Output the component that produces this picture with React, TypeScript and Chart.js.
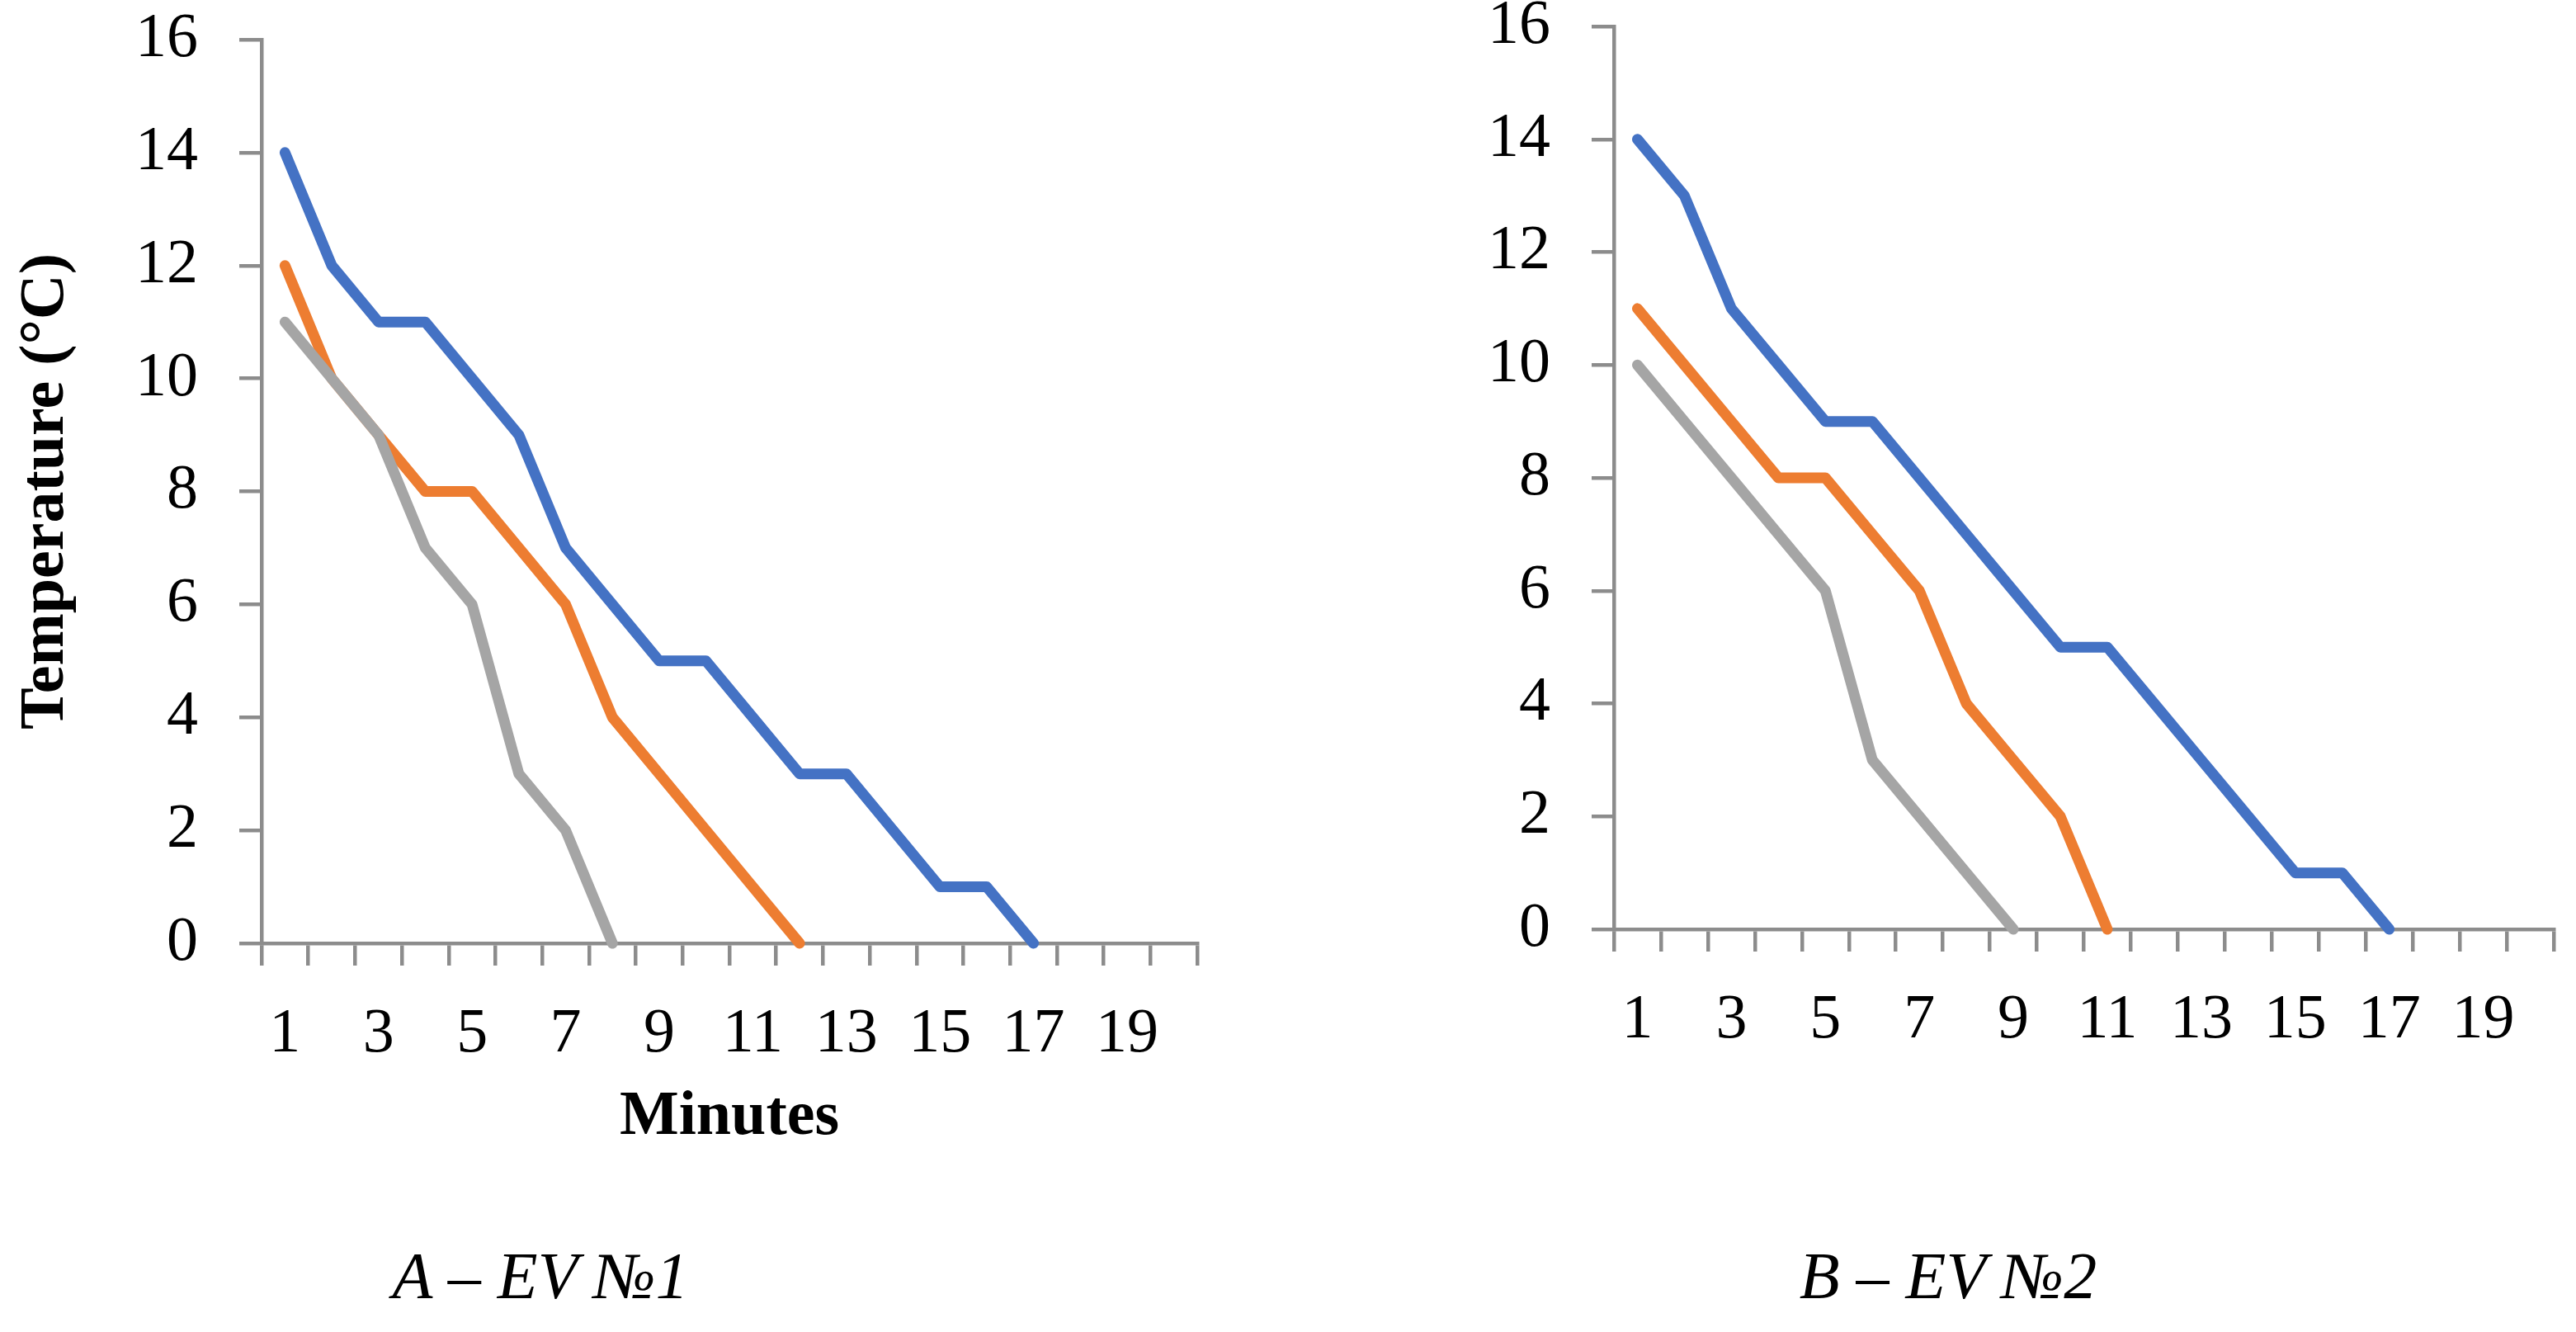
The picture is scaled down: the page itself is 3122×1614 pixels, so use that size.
import React, { useEffect, useRef } from "react";
import { Chart, registerables } from "chart.js";

Chart.register(...registerables);

// ---------- data ----------
const minuteLabels = ["1", "2", "3", "4", "5", "6", "7", "8", "9", "10", "11", "12", "13", "14", "15", "16", "17", "18", "19", "20"];
const yTickValues = [0, 2, 4, 6, 8, 10, 12, 14, 16];

const ev1Blue = [14, 12, 11, 11, 10, 9, 7, 6, 5, 5, 4, 3, 3, 2, 1, 1, 0];
const ev1Orange = [12, 10, 9, 8, 8, 7, 6, 4, 3, 2, 1, 0];
const ev1Gray = [11, 10, 9, 7, 6, 3, 2, 0];

const ev2Blue = [14, 13, 11, 10, 9, 9, 8, 7, 6, 5, 5, 4, 3, 2, 1, 1, 0];
const ev2Orange = [11, 10, 9, 8, 8, 7, 6, 4, 3, 2, 0];
const ev2Gray = [10, 9, 8, 7, 6, 3, 2, 1, 0];

const captionA = "A – EV №1";
const captionB = "B – EV №2";
const xTitle = "Minutes";
const yTitle = "Temperature (°C)";

// ---------- styles ----------
const FONT = "'Palatino Linotype', 'Book Antiqua', Palatino, 'Liberation Serif', serif";
const AXIS = "#8c8c8c";
const BLUE = "#4472C4";
const ORANGE = "#ED7D31";
const GRAY = "#A5A5A5";
const LINE_W = 13;
const AXIS_W = 4.5;
const TICK_LEN = 27;
const CANVAS_W = 1561;
const CANVAS_H = 1400;

type PanelProps = {
  blue: number[];
  orange: number[];
  gray: number[];
  left: number;
  yAxisWidth: number;
  padTop: number;
  padRight: number;
  plotBottom: number;
  showTitles: boolean;
};

function Panel(p: PanelProps) {
  const ref = useRef<HTMLCanvasElement | null>(null);
  useEffect(() => {
    if (!ref.current) return;
    const ds = (label: string, data: number[], color: string, order: number) => ({
      label,
      data,
      borderColor: color,
      backgroundColor: color,
      borderWidth: LINE_W,
      pointRadius: 0,
      pointHoverRadius: 0,
      tension: 0,
      fill: false,
      borderCapStyle: "round" as const,
      borderJoinStyle: "round" as const,
      clip: false as const,
      order,
    });
    const chart = new Chart(ref.current, {
      type: "line",
      data: {
        labels: minuteLabels,
        datasets: [
          ds("1", p.blue, BLUE, 2),
          ds("2", p.orange, ORANGE, 1),
          ds("3", p.gray, GRAY, 0),
        ],
      },
      options: {
        animation: false,
        responsive: false,
        devicePixelRatio: 1,
        layout: {
          autoPadding: false,
          padding: { top: p.padTop, right: p.padRight, left: 0, bottom: 0 },
        },
        plugins: {
          legend: { display: false },
          tooltip: { enabled: false },
          title: { display: false },
        },
        scales: {
          x: {
            type: "category",
            offset: true,
            grid: {
              display: true,
              offset: true,
              drawOnChartArea: false,
              drawTicks: true,
              tickLength: TICK_LEN,
              tickWidth: AXIS_W,
              tickColor: AXIS,
              color: AXIS,
              lineWidth: AXIS_W,
            },
            border: { display: true, color: AXIS, width: AXIS_W },
            ticks: {
              autoSkip: false,
              maxRotation: 0,
              minRotation: 0,
              padding: 38,
              color: "#000",
              font: { family: FONT, size: 76 },
              callback: (_v: any, i: number) => (i % 2 === 0 ? minuteLabels[i] : ""),
            },
            title: {
              display: p.showTitles,
              text: xTitle,
              color: "#000",
              font: { family: FONT, size: 76, weight: "bold" },
              padding: { top: 0, bottom: 0 },
            },
            afterFit: (s: any) => {
              s.height = CANVAS_H - p.plotBottom;
              s.paddingLeft = 0;
              s.paddingRight = 0;
            },
          },
          y: {
            type: "linear",
            min: 0,
            max: 16,
            afterBuildTicks: (s: any) => {
              s.ticks = yTickValues.map((v) => ({ value: v }));
            },
            grid: {
              display: true,
              drawOnChartArea: false,
              drawTicks: true,
              tickLength: TICK_LEN,
              tickWidth: AXIS_W,
              tickColor: AXIS,
              color: AXIS,
              lineWidth: AXIS_W,
            },
            border: { display: true, color: AXIS, width: AXIS_W },
            ticks: {
              padding: 50,
              color: "#000",
              font: { family: FONT, size: 76 },
            },
            title: {
              display: p.showTitles,
              text: yTitle,
              color: "#000",
              font: { family: FONT, size: 76, weight: "bold" },
              padding: { top: 11, bottom: 0 },
            },
            afterFit: (s: any) => {
              s.width = p.yAxisWidth;
              s.paddingTop = 0;
              s.paddingBottom = 0;
            },
          },
        },
      },
    } as any);
    return () => chart.destroy();
  }, []);
  return (
    <canvas
      ref={ref}
      width={CANVAS_W}
      height={CANVAS_H}
      style={{ position: "absolute", left: p.left, top: 0, width: CANVAS_W, height: CANVAS_H, display: "block" }}
    />
  );
}

function Caption({ text, cx }: { text: string; cx: number }) {
  return (
    <div
      style={{
        position: "absolute",
        left: cx - 500,
        width: 1000,
        top: 1506,
        textAlign: "center",
        fontFamily: FONT,
        fontStyle: "italic",
        fontSize: 80,
        lineHeight: 1,
        color: "#000",
        whiteSpace: "nowrap",
      }}
    >
      {text}
    </div>
  );
}

export default function App() {
  return (
    <div style={{ position: "fixed", left: 0, top: 0, width: 3122, height: 1614, background: "#fff", overflow: "hidden" }}>
      <Panel
        blue={ev1Blue}
        orange={ev1Orange}
        gray={ev1Gray}
        left={0}
        yAxisWidth={317}
        padTop={48}
        padRight={110}
        plotBottom={1143}
        showTitles={true}
      />
      <Panel
        blue={ev2Blue}
        orange={ev2Orange}
        gray={ev2Gray}
        left={1561}
        yAxisWidth={395}
        padTop={32}
        padRight={27}
        plotBottom={1126}
        showTitles={false}
      />
      <Caption text={captionA} cx={655} />
      <Caption text={captionB} cx={2361} />
    </div>
  );
}
